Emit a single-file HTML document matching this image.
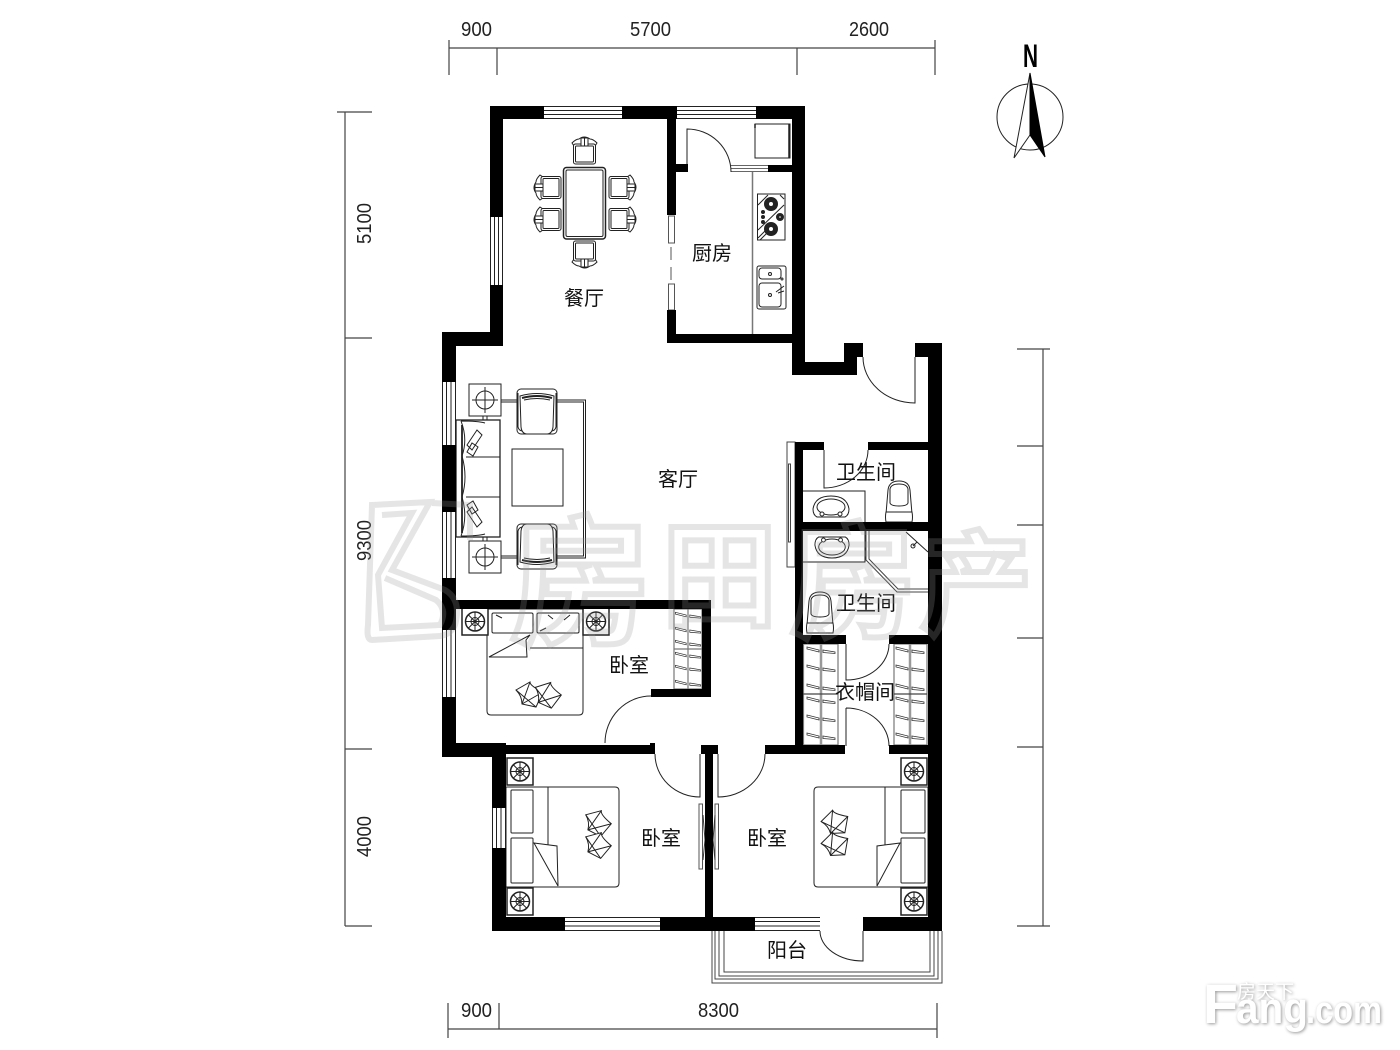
<!DOCTYPE html>
<html><head><meta charset="utf-8"><style>
html,body{margin:0;padding:0;background:#fff}
svg{display:block}
.l{font:20px "Noto Sans CJK SC","WenQuanYi Zen Hei","Liberation Sans",sans-serif;fill:#111;text-anchor:middle}
.d{font:20px "Liberation Sans",sans-serif;fill:#222}
.w{font-family:"Noto Sans CJK SC",sans-serif;font-weight:700;fill:none;stroke:rgba(150,150,150,.25);stroke-width:6}
</style></head><body>
<svg xmlns="http://www.w3.org/2000/svg" width="1400" height="1050" viewBox="0 0 1400 1050">
<defs>
<g id="chair" fill="#fff" stroke="#222" stroke-width="1">
<path d="M0 6Q4 2 7 2Q12 -2 18 2Q21 2 25 6L23 9L2 9Z"/>
<rect x="1.5" y="7" width="22" height="20" rx="2"/><rect x="3.5" y="9" width="18" height="16" rx="1"/>
<rect x="9" y="1" width="7" height="8"/><line x1="12.5" y1="1" x2="12.5" y2="9"/>
</g>
<g id="arm" fill="#fff" stroke="#222" stroke-width="1">
<rect x="0" y="0" width="40" height="45" rx="4"/>
<path d="M1 4V38Q2 42 6 42M39 4V38Q38 42 34 42" fill="none"/>
<path d="M3 7Q20 2 37 7L36 38Q35 45 30 45H10Q5 45 4 38Z"/>
<path d="M5 9Q20 5 35 9" fill="none" stroke-width="2"/>
<path d="M7 11Q20 8 33 11" fill="none"/>
</g>
<g id="tbl" fill="#fff" stroke="#222" stroke-width="1">
<rect x="0" y="0" width="32" height="32"/><circle cx="16" cy="16" r="9" fill="none"/>
<path d="M16 3V29M3 16H29"/>
</g>
<g id="ntb" fill="#fff" stroke="#222" stroke-width="1">
<rect x="0" y="0" width="26" height="27" stroke-width="1.5"/>
<circle cx="13" cy="13.5" r="9.5" fill="none" stroke-width="1.5"/><circle cx="13" cy="13.5" r="4" fill="none"/>
<path d="M13 4V23M3.5 13.5H22.5M6.5 7L19.500 20M19.500 7L6.500 20" />
</g>
<g id="cush" fill="#fff" stroke="#222" stroke-width="1">
<path d="M0 8L14 0Q14 4 27 10L20 25L6 22Q6 14 0 8Z"/><path d="M0 8L20 25M14 0L6 22M27 10L6 22"/>
</g>
<g id="h" fill="#fff" stroke="#333" stroke-width=".8">
<path d="M-14 -3L-2 0V2L-14 -1Z"/><path d="M2 0L14 2V3.500L2 2.500Z"/>
</g>
<g id="wc" fill="#fff" stroke="#222" stroke-width="1">
<path d="M1 33L3 9Q4 0 14 0Q24 0 25 9L27 33Z"/>
<path d="M5 22V8Q6 3 14 3Q22 3 23 8V22Q22 25 14 25Q6 25 5 22Z"/>
<path d="M1 31H27Q28 36 27 41H1Q0 36 1 31Z"/>
</g>
<g id="bsn" fill="#fff" stroke="#222" stroke-width="1">
<path d="M-18 2Q-16 -11 0 -11Q16 -11 18 2Q18 8 14 10H-14Q-18 8 -18 2Z"/>
<ellipse cx="0" cy="0" rx="14" ry="8"/>
<circle cx="-9" cy="7" r="2"/><circle cx="9" cy="7" r="2"/>
</g>
</defs>
<rect width="1400" height="1050" fill="#fff"/>

<!-- dimensions -->
<g stroke="#444" stroke-width="1.2" fill="none">
<path d="M449 48H935M449 40V75M497 48V75M797 48V75M935 40V75"/>
<path d="M345 112V926M337 112H372M345 338H372M345 749H372M345 926H372"/>
<path d="M1043 349V926M1017 349H1050M1017 446H1043M1017 525H1043M1017 638H1043M1017 747H1043M1017 926H1050"/>
<path d="M448 1029H937M448 1003V1038M499 1003V1029M937 1003V1038"/>
</g>
<g class="d">
<text class="d" x="461" y="36" textLength="31" lengthAdjust="spacingAndGlyphs">900</text>
<text class="d" x="630" y="36" textLength="41" lengthAdjust="spacingAndGlyphs">5700</text>
<text class="d" x="849" y="36" textLength="40" lengthAdjust="spacingAndGlyphs">2600</text>
<text class="d" x="461" y="1017" textLength="31" lengthAdjust="spacingAndGlyphs">900</text>
<text class="d" x="698" y="1017" textLength="41" lengthAdjust="spacingAndGlyphs">8300</text>
<text class="d" transform="translate(371,244) rotate(-90)" textLength="41" lengthAdjust="spacingAndGlyphs">5100</text>
<text class="d" transform="translate(371,561) rotate(-90)" textLength="41" lengthAdjust="spacingAndGlyphs">9300</text>
<text class="d" transform="translate(371,857) rotate(-90)" textLength="41" lengthAdjust="spacingAndGlyphs">4000</text>
</g>

<!-- furniture & thin lines -->
<g fill="none" stroke="#222" stroke-width="1">
<path d="M544 106.500H622M544 110.500H622M544 114.500H622M544 118.500H622"/>
<path d="M677 106.500H756M677 110.500H756M677 114.500H756M677 118.500H756"/>
<path d="M565 917.500H660M565 921.500H660M565 926H660M565 930.500H660"/>
<path d="M755 917.500H820M755 921.500H820M755 926H820M755 930.500H820"/>
<path d="M731 165.500H768M731 168.500H768M731 171.500H768" stroke="#666"/>
<path d="M490.500 217V285M494.500 217V285M498.500 217V285M502.500 217V285"/>
<path d="M442.500 382V445M446.500 382V445M451 382V445M455.500 382V445"/>
<path d="M442.500 512V578M446.500 512V578M451 512V578M455.500 512V578"/>
<path d="M442.500 630V697M446.500 630V697M451 630V697M455.500 630V697"/>
<path d="M492.500 808V848M496.500 808V848M501 808V848M505.500 808V848"/>
<rect x="668.500" y="216" width="6" height="27" stroke="#555"/><rect x="668.500" y="284" width="6" height="26" stroke="#555"/>
<path d="M671 247V260M671 267V280" stroke="#555"/>
<rect x="699" y="804" width="3.500" height="65" stroke="#555"/><rect x="715" y="804" width="3.500" height="65" stroke="#555"/>
<path d="M703 815L705 840L703 860M715 815L713 840L715 860" stroke="#333"/>
<path d="M687 164V129A44 43 0 0 1 731 172"/>
<path d="M915 357V403A52 46 0 0 1 863 357"/>
<path d="M824 450V488A44 38 0 0 0 868 450"/>
<path d="M651 696A46 47 0 0 0 605 743"/>
<path d="M700 754V797A45 43 0 0 1 655 754"/>
<path d="M718 754V797A47 43 0 0 0 765 754"/>
<path d="M846 644V680A43 36 0 0 0 889 644"/>
<path d="M846 708V746M846 708A43 38 0 0 1 889 746"/>
<path d="M863 931V961A43 30 0 0 1 820 931"/>
<path d="M712 931V983H942V931M715 931V979H938V931M719 931V976H934V931M724 931V972H930V931" stroke="#444"/>
<path d="M752.500 172V334" stroke="#777" stroke-width="1.500"/>
<rect x="755" y="124" width="35" height="34"/>
<path d="M755 124V128M789 124V158" stroke-width="1.500"/>
<rect x="757.500" y="194" width="27.500" height="46"/>
<path d="M758 205L768 195M780 195L784 199M758 230L784 205M758 238L768 228M760 240L768 232"/>
<circle cx="771" cy="204" r="6.500" fill="#222"/><circle cx="771" cy="204" r="2.500" fill="#fff"/>
<circle cx="771" cy="229" r="6.500" fill="#222"/><circle cx="771" cy="229" r="2.500" fill="#fff"/>
<circle cx="780" cy="217" r="3.500" fill="#222"/><circle cx="780" cy="217" r="1.300" fill="#fff"/>
<circle cx="763" cy="212" r="1.500" fill="#222"/><circle cx="763" cy="217" r="1.500" fill="#222"/><circle cx="763" cy="222" r="1.500" fill="#222"/>
<rect x="757" y="266" width="29" height="43" rx="2"/>
<rect x="759" y="268" width="22" height="11" rx="3"/><rect x="759" y="283" width="22" height="24" rx="3"/>
<circle cx="770" cy="274" r="1.500"/><circle cx="770" cy="295" r="1.500"/><circle cx="782" cy="279" r="1"/>
<path d="M776 292L784 286M778 293L784 291"/>
<rect x="563.500" y="167.500" width="42" height="71.500" rx="3" stroke-width="1.500"/>
<rect x="566" y="170" width="37" height="66.500" rx="1.500"/>
</g>
<use href="#chair" transform="translate(572,137)"/>
<use href="#chair" transform="translate(597,268) rotate(180)"/>
<use href="#chair" transform="translate(534,200) rotate(-90)"/>
<use href="#chair" transform="translate(534,232) rotate(-90)"/>
<use href="#chair" transform="translate(636,175) rotate(90)"/>
<use href="#chair" transform="translate(636,207) rotate(90)"/>

<!-- living -->
<g fill="none" stroke="#222" stroke-width="1">
<path d="M501 400H585.500V558H501M501 402H583.500V556H501"/>
<rect x="512" y="449" width="51" height="57" fill="#fff"/>
<path d="M483 416V420M487 416V420M483 537V541M487 537V541"/>
<rect x="456" y="420" width="44" height="117" fill="#fff" stroke-width="1.300"/>
<path d="M461 421Q468 439 462 456Q468 477 462 497Q468 517 461 536M461 421Q478 421 485 423M461 536Q478 536 485 534M466 457H500M466 497H500"/>
<path d="M462 425V533" stroke-width="1.800"/>
<path d="M467 445L477 430L482 435L472 450ZM467 452L472 443L478 447L473 456Z" fill="#fff"/>
<path d="M467 512L477 527L482 522L472 507ZM467 505L472 514L478 510L473 501Z" fill="#fff"/>
</g>
<use href="#arm" transform="translate(517,389)"/>
<use href="#arm" transform="translate(557,569) rotate(180)"/>
<use href="#tbl" transform="translate(469,384)"/>
<use href="#tbl" transform="translate(469,541)"/>

<!-- bedroom 1 -->
<g fill="#fff" stroke="#222" stroke-width="1">
<path d="M487 609H583V711Q583 715 579 715H491Q487 715 487 711Z"/>
<rect x="492" y="613" width="41" height="20" rx="1.500"/><rect x="537" y="613" width="42" height="20" rx="1.500"/>
<path d="M530 648H583" fill="none"/>
<path d="M530 635L489 657H527L526 640Z"/>
<path d="M496 615L502 618M570 615L564 620M548 615L553 619M540 631L546 628" fill="none"/>
</g>
<use href="#cush" transform="translate(516,682)"/>
<use href="#cush" transform="translate(534,682) rotate(12 13 13)"/>
<use href="#ntb" transform="translate(462,608)"/>
<use href="#ntb" transform="translate(583,608)"/>
<g fill="none" stroke="#777" stroke-width="1.200">
<rect x="674" y="609" width="28" height="80"/><path d="M688 609V689M674 649H702" />
</g>
<use href="#h" transform="translate(688,615) scale(.9)"/><use href="#h" transform="translate(688,630) scale(.9)"/><use href="#h" transform="translate(688,643) scale(.9)"/>
<use href="#h" transform="translate(688,655) scale(.9)"/><use href="#h" transform="translate(688,668) scale(.9)"/><use href="#h" transform="translate(688,683) scale(.9)"/>

<!-- bedroom 2 -->
<g fill="#fff" stroke="#222" stroke-width="1">
<path d="M506 787H615Q619 787 619 791V883Q619 887 615 887H506Z"/>
<path d="M548 787V846" fill="none"/>
<rect x="511" y="790" width="22" height="43" rx="1"/><rect x="511" y="838" width="22" height="45" rx="1"/>
<path d="M534 843L558 886L557 846Z"/>
</g>
<use href="#cush" transform="translate(584,810) rotate(15 13 13)"/>
<use href="#cush" transform="translate(584,832) rotate(15 13 13)"/>
<use href="#ntb" transform="translate(507,758)"/>
<use href="#ntb" transform="translate(507,888)"/>

<!-- bedroom 3 -->
<g fill="#fff" stroke="#222" stroke-width="1">
<path d="M928 787H818Q814 787 814 791V883Q814 887 818 887H928Z"/>
<path d="M885 787V846" fill="none"/>
<rect x="901" y="790" width="24" height="43" rx="1"/><rect x="901" y="838" width="24" height="45" rx="1"/>
<path d="M900 843L877 886L877 846Z"/>
</g>
<use href="#cush" transform="translate(822,810) rotate(-15 13 13)"/>
<use href="#cush" transform="translate(822,832) rotate(-15 13 13)"/>
<use href="#ntb" transform="translate(901,758)"/>
<use href="#ntb" transform="translate(901,888)"/>

<!-- baths -->
<g fill="none" stroke="#222" stroke-width="1">
<rect x="787" y="442" width="8" height="125" stroke="#444"/>
<rect x="788.500" y="464" width="2" height="78" stroke="#444"/>
<path d="M803 491H865V522M803 562H865V531"/>
<path d="M866 531V560L897 592H928M869 531V559L898 589H928" stroke="#444"/>
<path d="M906 532L928 552" stroke="#222"/><circle cx="913" cy="546" r="2"/><path d="M913 546L917 542"/>
</g>
<use href="#bsn" transform="translate(831,507)"/>
<use href="#bsn" transform="translate(832,547) scale(.95,-1)"/>
<use href="#wc" transform="translate(885,481)"/>
<use href="#wc" transform="translate(806,592)"/>
<g fill="none" stroke="#777" stroke-width="1.200">
<rect x="803.500" y="644" width="34.500" height="101"/><rect x="894" y="644" width="33" height="101"/>
<path d="M821 644V745M910 644V745" stroke-width="2.500" stroke="#999"/>
<path d="M803 694H838M894 694H927" stroke="#444"/>
</g>
<use href="#h" transform="translate(821,650)"/><use href="#h" transform="translate(821,668)"/><use href="#h" transform="translate(821,687)"/><use href="#h" transform="translate(821,700)"/><use href="#h" transform="translate(821,718)"/><use href="#h" transform="translate(821,736)"/>
<use href="#h" transform="translate(910,650)"/><use href="#h" transform="translate(910,668)"/><use href="#h" transform="translate(910,687)"/><use href="#h" transform="translate(910,700)"/><use href="#h" transform="translate(910,718)"/><use href="#h" transform="translate(910,736)"/>

<!-- walls -->
<g fill="#000">
<rect x="490" y="106" width="54" height="13"/><rect x="622" y="106" width="55" height="13"/><rect x="756" y="106" width="49" height="13"/>
<rect x="490" y="106" width="13" height="111"/><rect x="490" y="285" width="13" height="61"/>
<rect x="442" y="332" width="61" height="14"/>
<rect x="442" y="332" width="14" height="50"/><rect x="442" y="445" width="14" height="67"/><rect x="442" y="578" width="14" height="52"/><rect x="442" y="697" width="14" height="60"/>
<rect x="442" y="743" width="64" height="14"/><rect x="506" y="745" width="149" height="9"/><rect x="650" y="743" width="5" height="11"/>
<rect x="492" y="743" width="14" height="65"/><rect x="492" y="848" width="14" height="83"/>
<rect x="492" y="917" width="73" height="14"/><rect x="660" y="917" width="95" height="14"/><rect x="863" y="917" width="79" height="14"/>
<rect x="705" y="745" width="8" height="172"/><rect x="701" y="745" width="17" height="9"/>
<rect x="765" y="745" width="80" height="9"/><rect x="889" y="745" width="53" height="9"/>
<rect x="795" y="442" width="8" height="312"/>
<rect x="795" y="635" width="51" height="9"/><rect x="889" y="635" width="39" height="9"/>
<rect x="795" y="442" width="29" height="8"/><rect x="868" y="442" width="60" height="8"/><rect x="795" y="522" width="133" height="9"/>
<rect x="928" y="343" width="14" height="588"/><rect x="915" y="343" width="27" height="14"/>
<rect x="792" y="106" width="13" height="269"/><rect x="792" y="362" width="65" height="13"/><rect x="844" y="343" width="19" height="14"/><rect x="844" y="343" width="13" height="32"/>
<rect x="667" y="334" width="138" height="9"/><rect x="667" y="119" width="9" height="96"/><rect x="667" y="310" width="9" height="33"/><rect x="667" y="164" width="21" height="8"/>
<rect x="768" y="165" width="24" height="7"/>
<rect x="456" y="600" width="255" height="9"/><rect x="702" y="600" width="9" height="97"/><rect x="651" y="689" width="60" height="8"/>
</g>

<!-- north -->
<circle cx="1030" cy="117" r="33" fill="none" stroke="#222" stroke-width="1"/>
<path d="M1030 73L1014 158L1030 135Z" fill="#fff" stroke="#222" stroke-width="1"/>
<path d="M1030 73L1045 157L1030 135Z" fill="#000" stroke="#000"/>
<text x="1023" y="67" font-family="Liberation Sans" font-weight="700" font-size="32" textLength="15" lengthAdjust="spacingAndGlyphs" fill="#000">N</text>

<!-- labels -->
<text class="l" x="584" y="305">餐厅</text>
<text class="l" x="712" y="260">厨房</text>
<text class="l" x="678" y="486">客厅</text>
<text class="l" x="866" y="479">卫生间</text>
<text class="l" x="866" y="610">卫生间</text>
<text class="l" x="629" y="672">卧室</text>
<text class="l" x="865" y="699">衣帽间</text>
<text class="l" x="661" y="845">卧室</text>
<text class="l" x="767" y="845">卧室</text>
<text class="l" x="787" y="957">阳台</text>

<!-- watermark -->
<g>
<path d="M372 505L430 502L392 570L445 590Q462 600 455 625Q450 635 440 636L372 640Q366 640 368 625ZM382 515L412 513L378 575L382 628L440 625Q448 610 436 600L385 578M432 503L470 505L470 540" fill="none" stroke="rgba(150,150,150,.25)" stroke-width="6"/>
<text class="w" font-size="140" x="510" y="633">房</text>
<text class="w" font-size="115" x="662" y="617">田</text>
<text class="w" font-size="125" x="790" y="627">房</text>
<text class="w" font-size="112" x="920" y="625">产</text>
</g>

<!-- logo -->
<g style="filter:drop-shadow(1.500px 1.500px 1.500px #999)" fill="#fff">
<text x="1203" y="1023" font-family="Liberation Sans" font-weight="700" font-size="56" textLength="35" lengthAdjust="spacingAndGlyphs">F</text>
<text x="1236" y="1023" font-family="Liberation Sans" font-weight="700" font-size="44" textLength="72" lengthAdjust="spacingAndGlyphs">ang</text>
<text x="1306" y="1023" font-family="Liberation Sans" font-weight="700" font-size="38" textLength="76" lengthAdjust="spacingAndGlyphs">.com</text>
<text x="1237" y="998" font-family="Noto Sans CJK SC,sans-serif" font-size="19">房天下</text>
</g>
</svg>
</body></html>
